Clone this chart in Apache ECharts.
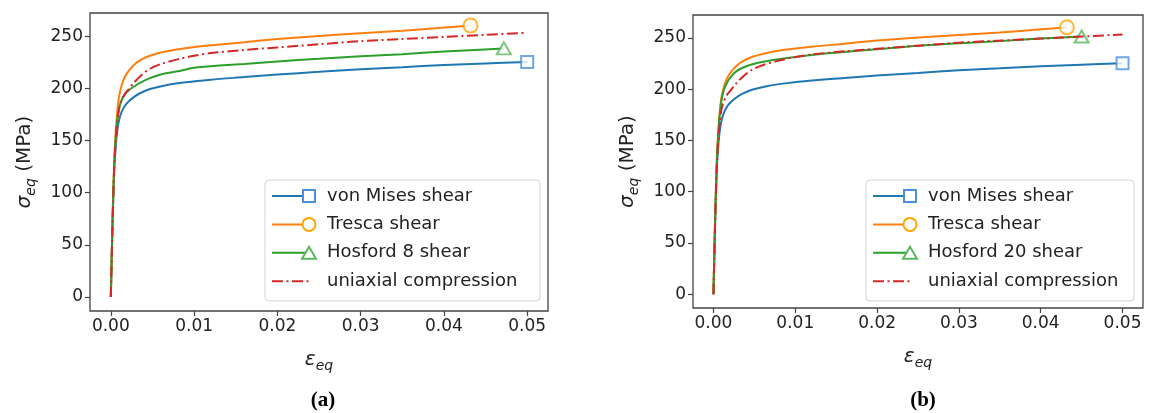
<!DOCTYPE html>
<html>
<head>
<meta charset="utf-8">
<script src="https://cdn.jsdelivr.net/npm/echarts@6/dist/echarts.min.js"></script>
<style>
html, body { margin: 0; padding: 0; background: #fff; }
#chart { width: 1150px; height: 413px; }
</style>
</head>
<body>
<div id="chart"></div>
<script>
// =====================================
// Data
// =====================================

const strainTicks = [0, 0.01, 0.02, 0.03, 0.04, 0.05];
const stressTicks = [0, 50, 100, 150, 200, 250];

// [strain, stress MPa]
const misesCurve = [
    [0, 0], [0.0002, 68], [0.0004, 120], [0.0006, 146], [0.0008, 161],
    [0.001, 170], [0.0013, 177.5], [0.0017, 183.5], [0.0022, 188],
    [0.0028, 192], [0.0035, 195.5], [0.0047, 199.5], [0.0065, 203],
    [0.009, 206], [0.012, 208.5], [0.016, 211], [0.02, 213.5],
    [0.025, 216], [0.03, 218.5], [0.035, 220.5], [0.04, 222.5],
    [0.045, 224], [0.05, 225.5]
];

const trescaCurve = [
    [0, 0], [0.0002, 72], [0.0004, 128], [0.0006, 160], [0.0008, 180],
    [0.001, 193], [0.0013, 203], [0.0017, 211.5], [0.0022, 217.5],
    [0.0029, 223.5], [0.0037, 228], [0.0047, 231.5], [0.006, 234.5],
    [0.0083, 238], [0.012, 241.5], [0.016, 244.5], [0.02, 247.5],
    [0.025, 250.5], [0.03, 253], [0.035, 255.5], [0.04, 258.5],
    [0.0432, 260.5]
];

const hosford8Curve = [
    [0, 0], [0.0002, 70], [0.0004, 125], [0.0006, 154], [0.0008, 171],
    [0.001, 181], [0.0013, 189], [0.0017, 194.5], [0.0022, 198.5],
    [0.0027, 201.5], [0.0035, 205.5], [0.0047, 210], [0.006, 213.5],
    [0.008, 216.5], [0.01, 220], [0.013, 222], [0.016, 223.5],
    [0.02, 226], [0.025, 228.5], [0.03, 231], [0.035, 233],
    [0.04, 235.5], [0.0472, 238.5]
];

const hosford20Curve = [
    [0, 0], [0.0002, 72], [0.0004, 128], [0.0006, 158], [0.0008, 178],
    [0.001, 190], [0.0013, 200], [0.0017, 207], [0.002, 211],
    [0.0027, 217], [0.0037, 221.5], [0.005, 225], [0.0073, 228.5],
    [0.01, 231.5], [0.012, 233.5], [0.016, 236.5], [0.02, 239],
    [0.025, 242.5], [0.03, 245], [0.035, 247], [0.04, 249.5],
    [0.045, 251.5]
];

const uniaxialCurve = [
    [0, 0], [0.0002, 68], [0.0004, 122], [0.0006, 152], [0.0008, 170],
    [0.001, 181], [0.0013, 189], [0.0017, 195], [0.0022, 200],
    [0.0027, 205], [0.0037, 213], [0.0047, 219], [0.006, 223.5],
    [0.008, 228], [0.01, 231.5], [0.012, 234], [0.016, 237],
    [0.02, 239.5], [0.025, 242.5], [0.03, 245.5], [0.035, 247.5],
    [0.04, 249.5], [0.045, 251.5], [0.05, 253.5]
];

const namesA = ["von Mises shear", "Tresca shear", "Hosford 8 shear", "uniaxial compression"];
const namesB = ["von Mises shear", "Tresca shear", "Hosford 20 shear", "uniaxial compression"];
const captions = ["(a)", "(b)"];

// =====================================
// Styles
// =====================================

const lineColors = ["#1f77b4", "#ff7f0e", "#2ca02c", "#d62728"];
const markerColors = ["#4a90e2", "#ffa500", "#5cb85c"];
const markerSymbols = ["rect", "circle", "triangle"];
const markerSizes = [12, 14, [14, 12]];
const dashDot = [11, 3.5, 2, 3.5];
const textColor = "#222";
const font = "DejaVu Sans";

const panels = [
    { left: 90, top: 13, width: 458, height: 298, names: namesA,
      hosford: hosford8Curve, legendX: 265, legendW: 275, capX: 323 },
    { left: 693, top: 15, width: 450, height: 293, names: namesB,
      hosford: hosford20Curve, legendX: 866, legendW: 268, capX: 923 }
];

const chart = echarts.init(document.getElementById("chart"));

// =====================================
// Axes
// =====================================

function makeGrid(p) {
    return {
        left: p.left, top: p.top, width: p.width, height: p.height,
        show: true, borderColor: "#444", borderWidth: 1.3,
        backgroundColor: "transparent"
    };
}

function makeXAxis(i) {
    return {
        type: "value", gridIndex: i,
        min: -0.0025, max: 0.0525,
        axisLine: { show: false, onZero: false },
        splitLine: { show: false },
        axisTick: {
            show: true, length: 5, customValues: strainTicks,
            lineStyle: { color: "#444", width: 1.2 }
        },
        axisLabel: {
            customValues: strainTicks, margin: 7,
            formatter: v => v.toFixed(2),
            color: textColor, fontSize: 17, fontFamily: font
        },
        name: "{m|ε}{s|eq}",
        nameLocation: "middle", nameGap: 36,
        nameTextStyle: {
            rich: {
                m: { fontSize: 20, fontStyle: "italic", fontFamily: font, color: textColor, lineHeight: 26, verticalAlign: "middle" },
                s: { fontSize: 14, fontStyle: "italic", fontFamily: font, color: textColor, lineHeight: 14, verticalAlign: "bottom" }
            }
        }
    };
}

function makeYAxis(i) {
    return {
        type: "value", gridIndex: i,
        min: -13.5, max: 272.5,
        axisLine: { show: false, onZero: false },
        splitLine: { show: false },
        axisTick: {
            show: true, length: 5, customValues: stressTicks,
            lineStyle: { color: "#444", width: 1.2 }
        },
        axisLabel: {
            customValues: stressTicks, margin: 7,
            color: textColor, fontSize: 17, fontFamily: font
        },
        name: "{m|σ}{s|eq}{r| (MPa)}",
        nameLocation: "middle", nameRotate: 90, nameGap: 52,
        nameTextStyle: {
            rich: {
                m: { fontSize: 20, fontStyle: "italic", fontFamily: font, color: textColor, lineHeight: 26, verticalAlign: "middle" },
                s: { fontSize: 14, fontStyle: "italic", fontFamily: font, color: textColor, lineHeight: 14, verticalAlign: "bottom" },
                r: { fontSize: 20, fontFamily: font, color: textColor, lineHeight: 26, verticalAlign: "middle" }
            }
        }
    };
}

// =====================================
// Series
// =====================================

function makeSeries(i, p) {
    const curves = [misesCurve, trescaCurve, p.hosford, uniaxialCurve];
    const out = [];

    curves.forEach((curve, k) => {
        out.push({
            type: "line", name: p.names[k] + i,
            xAxisIndex: i, yAxisIndex: i,
            data: curve,
            symbol: "none",
            smooth: 0.3,
            lineStyle: {
                color: lineColors[k], width: 2,
                type: k === 3 ? dashDot : "solid"
            },
            z: 2 + k * 2,
            animation: false
        });

        if (k < 3) {
            out.push({
                type: "scatter",
                xAxisIndex: i, yAxisIndex: i,
                data: [curve[curve.length - 1]],
                symbol: markerSymbols[k],
                symbolSize: markerSizes[k],
                itemStyle: {
                    color: "#fff", borderColor: markerColors[k], borderWidth: 2
                },
                z: 3 + k * 2,
                animation: false
            });
        }
    });
    return out;
}

// =====================================
// Legend + caption (drawn as graphics)
// =====================================

function makeLegend(p) {
    const els = [];
    const top = 180;
    const rowH = 28.4;

    els.push({
        type: "rect", z: 20,
        shape: { x: p.legendX, y: top, width: p.legendW, height: 121, r: 4 },
        style: { fill: "rgba(255,255,255,0.85)", stroke: "#d3d3d3", lineWidth: 1 }
    });

    p.names.forEach((name, k) => {
        const y = top + 16 + k * rowH;
        const x1 = p.legendX + 7;
        const x2 = p.legendX + 44;

        els.push({
            type: "line", z: 21,
            shape: { x1: x1, y1: y, x2: x2, y2: y },
            style: {
                stroke: lineColors[k], lineWidth: 2,
                lineDash: k === 3 ? dashDot : null
            }
        });

        if (k === 0) {
            els.push({
                type: "rect", z: 22,
                shape: { x: x2 - 6, y: y - 6, width: 12, height: 12 },
                style: { fill: "#fff", stroke: markerColors[0], lineWidth: 2 }
            });
        } else if (k === 1) {
            els.push({
                type: "circle", z: 22,
                shape: { cx: x2, cy: y, r: 6.5 },
                style: { fill: "#fff", stroke: markerColors[1], lineWidth: 2 }
            });
        } else if (k === 2) {
            els.push({
                type: "polygon", z: 22,
                shape: { points: [[x2, y - 6], [x2 - 7, y + 6], [x2 + 7, y + 6]] },
                style: { fill: "#fff", stroke: markerColors[2], lineWidth: 2 }
            });
        }

        els.push({
            type: "text", z: 22,
            x: p.legendX + 62, y: y,
            style: {
                text: name, fill: textColor,
                font: "18px 'DejaVu Sans'",
                verticalAlign: "middle"
            }
        });
    });
    return els;
}

function makeCaption(p, i) {
    return {
        type: "text",
        x: p.capX, y: 401,
        style: {
            text: captions[i], fill: "#000",
            font: "bold 21px 'Liberation Serif'",
            align: "center", verticalAlign: "middle"
        }
    };
}

// =====================================
// Render
// =====================================

let series = [];
let graphic = [];

panels.forEach((p, i) => {
    series = series.concat(makeSeries(i, p));
    graphic = graphic.concat(makeLegend(p));
    graphic.push(makeCaption(p, i));
});

chart.setOption({
    animation: false,
    backgroundColor: "#fff",
    grid: panels.map(makeGrid),
    xAxis: panels.map((p, i) => makeXAxis(i)),
    yAxis: panels.map((p, i) => makeYAxis(i)),
    series: series,
    graphic: graphic
});
</script>
</body>
</html>
